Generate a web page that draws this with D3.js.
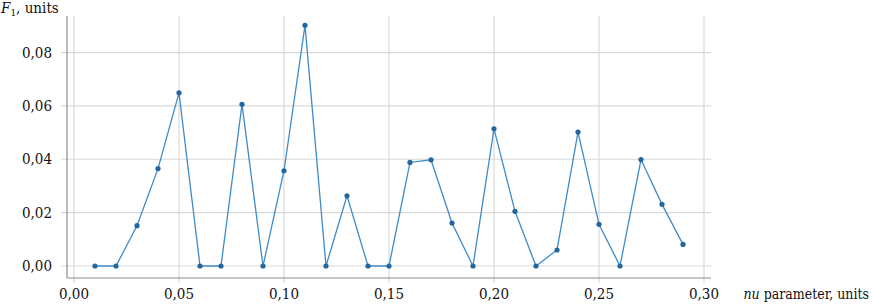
<!DOCTYPE html>
<html>
<head>
<meta charset="utf-8">
<script src="https://cdn.jsdelivr.net/npm/d3@7"></script>
<style>
  body { margin: 0; background: #fff; }
</style>
</head>
<body>
<div id="container"></div>
<script>
/* DATA */
const nuValues = [0.01, 0.02, 0.03, 0.04, 0.05, 0.06, 0.07, 0.08, 0.09, 0.10,
  0.11, 0.12, 0.13, 0.14, 0.15, 0.16, 0.17, 0.18, 0.19, 0.20,
  0.21, 0.22, 0.23, 0.24, 0.25, 0.26, 0.27, 0.28, 0.29];
const f1Values = [0, 0, 0.0151, 0.0365, 0.0649, 0, 0, 0.0606, 0, 0.0357,
  0.0902, 0, 0.0263, 0, 0, 0.0388, 0.0398, 0.0161, 0, 0.0514,
  0.0205, 0, 0.006, 0.0502, 0.0156, 0, 0.0399, 0.0231, 0.0081];
const xTicks = [0, 0.05, 0.10, 0.15, 0.20, 0.25, 0.30];
const yTicks = [0, 0.02, 0.04, 0.06, 0.08];

/* CONSTANTS */
const width = 872, height = 304;
const plotLeft = 67, plotRight = 711, plotTop = 16, plotBottom = 278;
const serif = "'DejaVu Serif Condensed', 'DejaVu Serif', serif";

const fmt = d => d3.format(".2f")(d).replace(".", ",");

// scales
const xScale = d3.scaleLinear()
  .domain([-0.00333, 0.30333])
  .range([plotLeft, plotRight]);

const yScale = d3.scaleLinear()
  .domain([-0.0045, 0.0937])
  .range([plotBottom, plotTop]);

const svg = d3.select("#container")
  .append("svg")
  .attr("width", width)
  .attr("height", height)
  .style("font-family", serif)
  .style("font-stretch", "condensed");

// grid
svg.append("g")
  .selectAll("line")
  .data(xTicks)
  .join("line")
  .attr("x1", d => xScale(d)).attr("x2", d => xScale(d))
  .attr("y1", plotTop).attr("y2", plotBottom + 5)
  .attr("stroke", "#d9d9d9").attr("stroke-width", 1.2);

svg.append("g")
  .selectAll("line")
  .data(yTicks)
  .join("line")
  .attr("x1", plotLeft - 6).attr("x2", plotRight)
  .attr("y1", d => yScale(d)).attr("y2", d => yScale(d))
  .attr("stroke", "#d9d9d9").attr("stroke-width", 1.2);

// axes lines
svg.append("line")
  .attr("x1", plotLeft).attr("x2", plotLeft)
  .attr("y1", plotTop).attr("y2", plotBottom)
  .attr("stroke", "#8c8c8c").attr("stroke-width", 1.2);
svg.append("line")
  .attr("x1", plotLeft).attr("x2", plotRight)
  .attr("y1", plotBottom).attr("y2", plotBottom)
  .attr("stroke", "#8c8c8c").attr("stroke-width", 1.2);

// tick labels
svg.append("g")
  .selectAll("text")
  .data(xTicks)
  .join("text")
  .attr("x", d => xScale(d))
  .attr("y", 299)
  .attr("text-anchor", "middle")
  .attr("font-size", 15)
  .attr("fill", "#111")
  .text(fmt);

svg.append("g")
  .selectAll("text")
  .data(yTicks)
  .join("text")
  .attr("x", 52)
  .attr("y", d => yScale(d) + 5)
  .attr("text-anchor", "end")
  .attr("font-size", 15)
  .attr("fill", "#111")
  .text(fmt);

// axis titles
const yt = svg.append("text")
  .attr("x", 1).attr("y", 13)
  .attr("font-size", 15).attr("fill", "#111");
yt.append("tspan").attr("font-style", "italic").text("F");
yt.append("tspan").attr("font-size", 10).attr("dy", 3).text("1");
yt.append("tspan").attr("dy", -3).text(", units");

const xt = svg.append("text")
  .attr("x", 869).attr("y", 299)
  .attr("text-anchor", "end")
  .attr("font-size", 14).attr("fill", "#111");
xt.append("tspan").attr("font-style", "italic").text("nu");
xt.append("tspan").text(" parameter, units");

// line
const points = nuValues.map((x, i) => ({ x, y: f1Values[i] }));
const line = d3.line()
  .x(d => xScale(d.x))
  .y(d => yScale(d.y));

svg.append("path")
  .datum(points)
  .attr("d", line)
  .attr("fill", "none")
  .attr("stroke", "#3f8bc9")
  .attr("stroke-width", 1.3);

svg.selectAll(".pt")
  .data(points)
  .join("circle")
  .attr("class", "pt")
  .attr("r", 2.6)
  .attr("cx", d => xScale(d.x))
  .attr("cy", d => yScale(d.y))
  .attr("fill", "#24679f");
</script>
</body>
</html>
